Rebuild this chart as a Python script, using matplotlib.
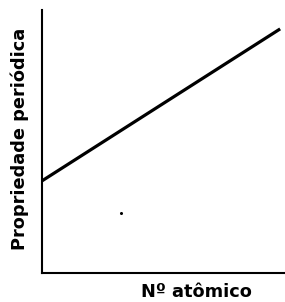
import matplotlib
matplotlib.use('Agg')
import matplotlib.pyplot as plt

# Dados do gráfico (escala arbitrária)
numero_atomico = [0, 98]
propriedade = [35, 92.8]
ponto_x = [32.5]
ponto_y = [22.8]

fig = plt.figure(figsize=(2.85, 3.02), dpi=100)
ax = fig.add_axes([0.147, 0.096, 0.853, 0.871])

ax.plot(numero_atomico, propriedade, color='black', linewidth=2.3, solid_capstyle='butt')
ax.plot(ponto_x, ponto_y, 'o', color='black', markersize=1.2)

ax.set_xlim(0, 100)
ax.set_ylim(0, 100)
ax.set_xticks([])
ax.set_yticks([])
for lado in ['top', 'right']:
    ax.spines[lado].set_visible(False)
for lado in ['left', 'bottom']:
    ax.spines[lado].set_linewidth(1.5)

fonte = {'family': 'DejaVu Sans', 'weight': 'bold', 'size': 12.8}
fig.text(0.688, 0.017, 'Nº atômico', ha='center', va='baseline', fontdict=fonte)
fig.text(0.068, 0.54, 'Propriedade periódica', ha='center', va='center',
         rotation=90, fontdict=fonte)

fig.savefig('out.png', dpi=100)
